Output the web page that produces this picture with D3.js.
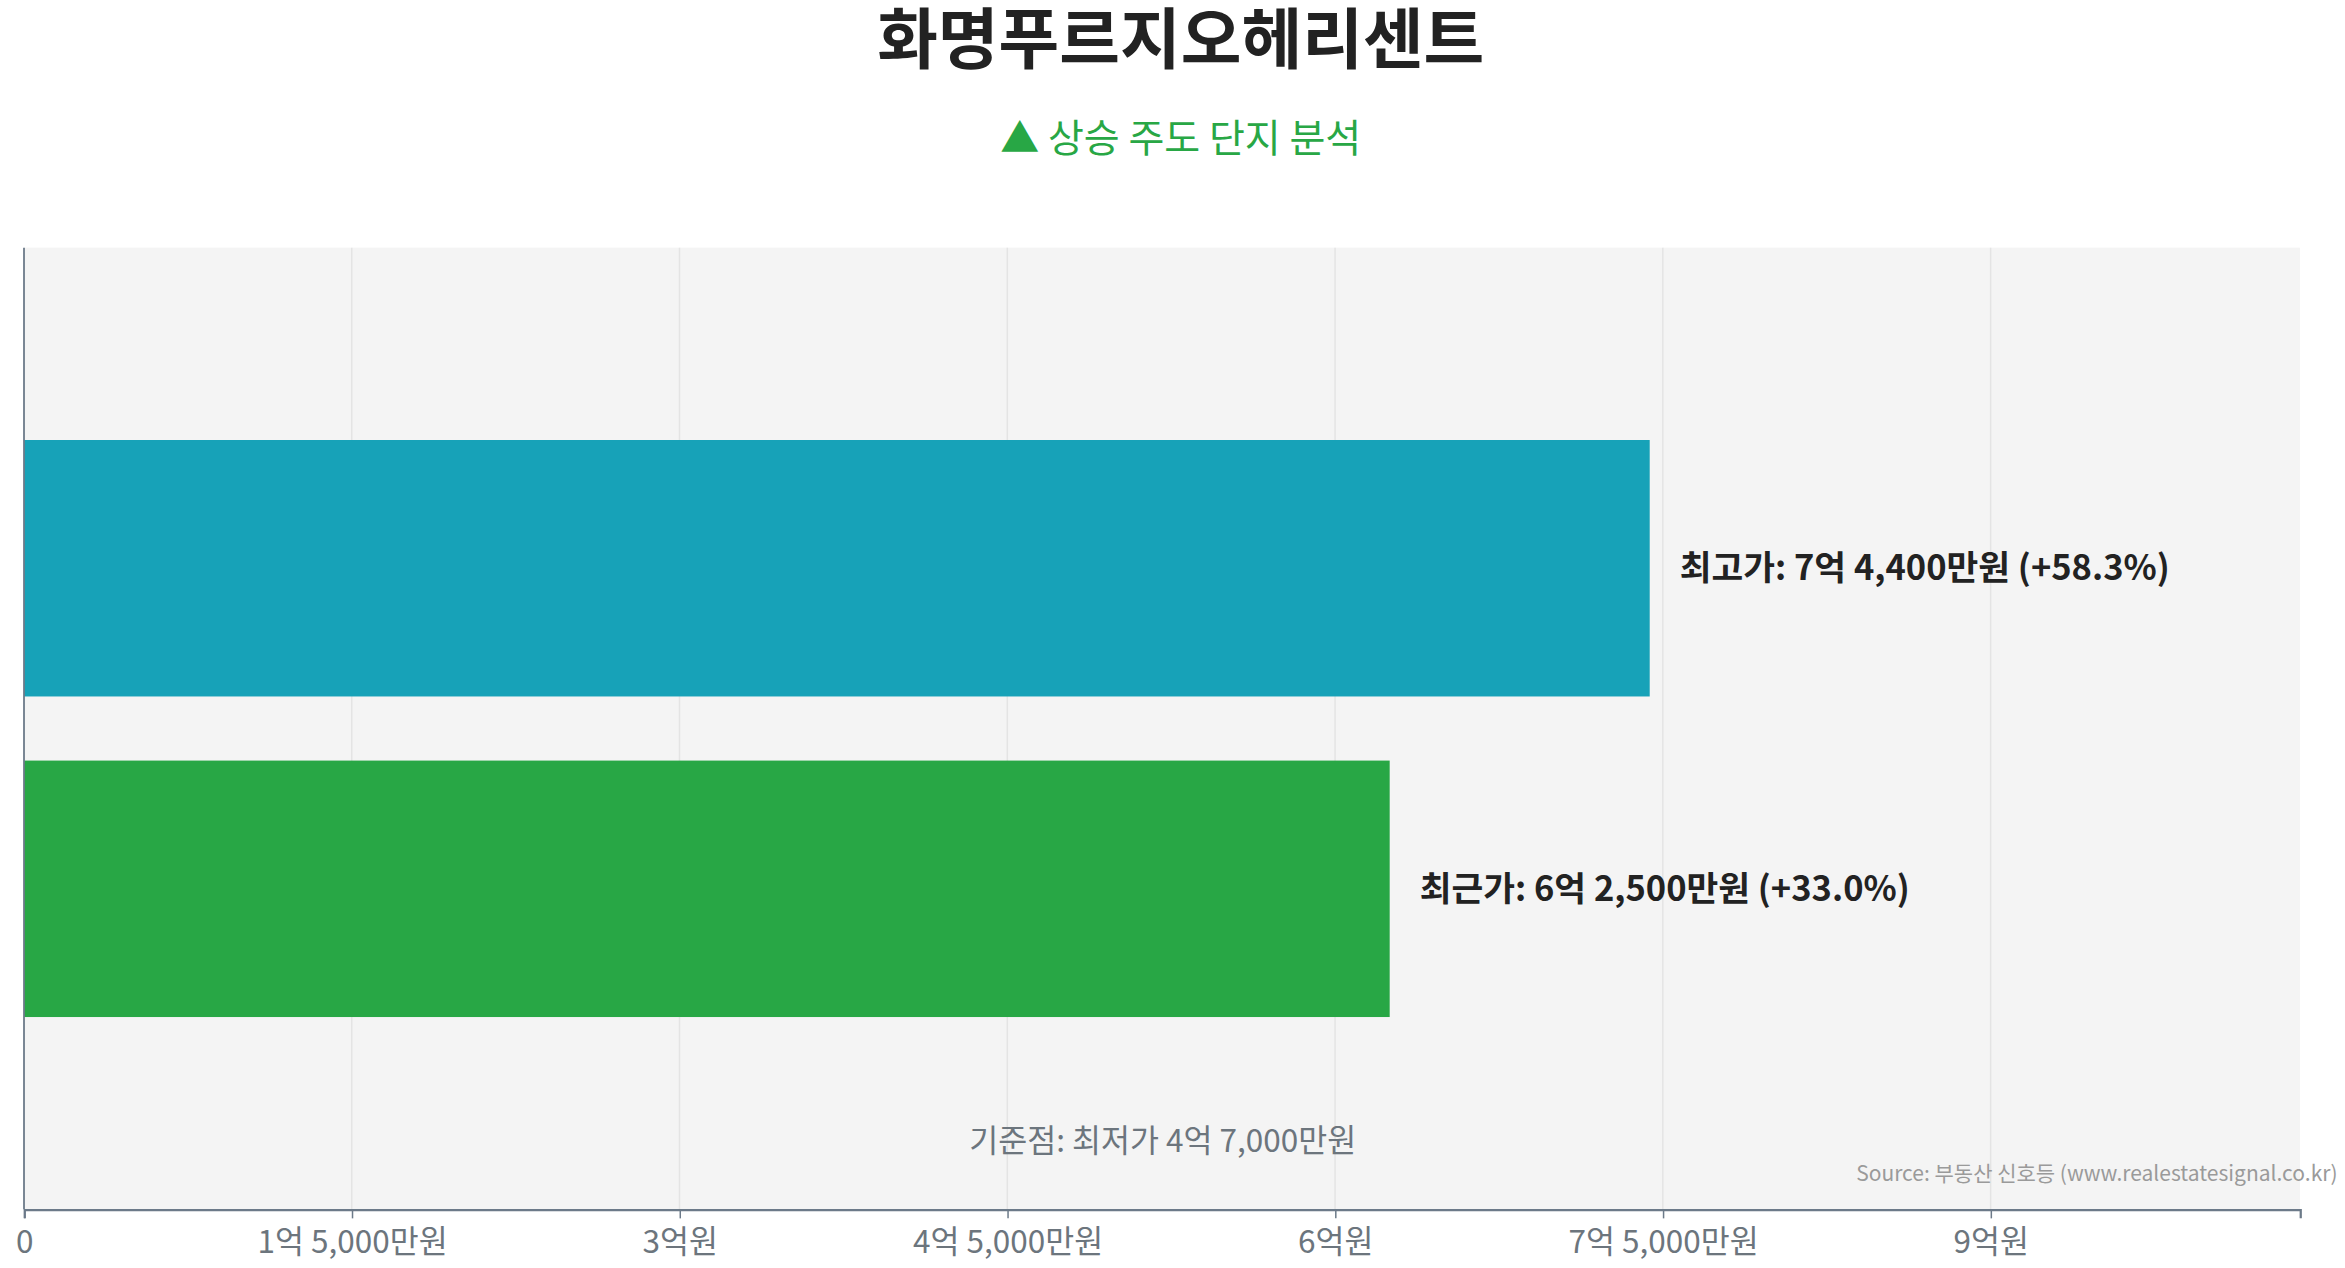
<!DOCTYPE html>
<html>
<head>
<meta charset="utf-8">
<script src="https://cdn.jsdelivr.net/npm/d3@7"></script>
<style>
  html, body { margin: 0; padding: 0; background: #fff; }
  svg { display: block; font-family: "Noto Sans CJK KR", "Noto Sans", sans-serif; }
</style>
</head>
<body>
<svg id="chart" width="2345" height="1268" viewBox="0 0 1563 845"></svg>
<script>
// values in 억원
const categories = ['최고가', '최근가'];
const prices = [7.44, 6.25];
const priceLabels = ['7억 4,400만원', '6억 2,500만원'];
const changes = ['+58.3%', '+33.0%'];
const barColors = ['#17a2b8', '#28a745'];
const baselineLabel = '4억 7,000만원';
const tickValues = [0, 1.5, 3, 4.5, 6, 7.5, 9];
const tickLabels = ['0', '1억 5,000만원', '3억원', '4억 5,000만원', '6억원', '7억 5,000만원', '9억원'];

const svg = d3.select('#chart');
const plotL = 16, plotR = 1533, plotT = 165, plotB = 806;

const x = d3.scaleLinear().domain([0, d3.max(prices) * 1.4]).range([plotL, plotR]);
const y = d3.scaleBand().domain(categories).range([plotT, plotB]).paddingInner(0.2).paddingOuter(0.6);

// title
svg.append('text').attr('x', 787).attr('y', 42).attr('text-anchor', 'middle')
  .attr('font-size', 44).attr('font-weight', 700).attr('fill', '#222')
  .text('화명푸르지오헤리센트');
svg.append('text').attr('x', 787).attr('y', 101).attr('text-anchor', 'middle')
  .attr('font-size', 26).attr('fill', '#28a745')
  .text('▲ 상승 주도 단지 분석');

// plot background
svg.append('rect').attr('x', plotL).attr('y', plotT)
  .attr('width', plotR - plotL).attr('height', plotB - plotT).attr('fill', '#f4f4f4');

// grid
svg.append('g').selectAll('line').data(tickValues.slice(1)).join('line')
  .attr('x1', d => x(d)).attr('x2', d => x(d))
  .attr('y1', plotT).attr('y2', plotB)
  .attr('stroke', '#e4e4e4').attr('stroke-width', 1);

// bars
svg.append('g').selectAll('rect').data(categories).join('rect')
  .attr('x', x(0)).attr('y', d => y(d))
  .attr('width', (d, i) => x(prices[i]) - x(0))
  .attr('height', y.bandwidth())
  .attr('fill', (d, i) => barColors[i]);

// value labels
svg.append('g').selectAll('text').data(categories).join('text')
  .attr('x', (d, i) => x(prices[i]) + 20)
  .attr('y', d => y(d) + y.bandwidth() / 2)
  .attr('dy', '0.35em')
  .attr('font-size', 23).attr('font-weight', 700).attr('fill', '#222')
  .text((d, i) => `${d}: ${priceLabels[i]} (${changes[i]})`);

// baseline note
svg.append('text').attr('x', 775).attr('y', 768).attr('text-anchor', 'middle')
  .attr('font-size', 21).attr('fill', '#6c757d')
  .text(`기준점: 최저가 ${baselineLabel}`);

svg.append('text').attr('x', 1558).attr('y', 787).attr('text-anchor', 'end')
  .attr('font-size', 14).attr('fill', '#9a9a9a')
  .text('Source: 부동산 신호등 (www.realestatesignal.co.kr)');

// axes
const xAxis = d3.axisBottom(x).tickValues(tickValues).tickFormat((d, i) => tickLabels[i]).tickSize(6).tickPadding(8);
const gx = svg.append('g').attr('transform', `translate(0,${plotB})`).call(xAxis);
gx.select('.domain').attr('stroke', '#6c7a89').attr('stroke-width', 1.5);
gx.selectAll('.tick line').attr('stroke', '#6c7a89');
gx.selectAll('.tick text').attr('font-size', 21).attr('fill', '#6c757d')
  .attr('font-family', '"Noto Sans CJK KR", sans-serif');

svg.append('line').attr('x1', plotL).attr('x2', plotL).attr('y1', plotT).attr('y2', plotB)
  .attr('stroke', '#6c7a89').attr('stroke-width', 1.2);
</script>
</body>
</html>
